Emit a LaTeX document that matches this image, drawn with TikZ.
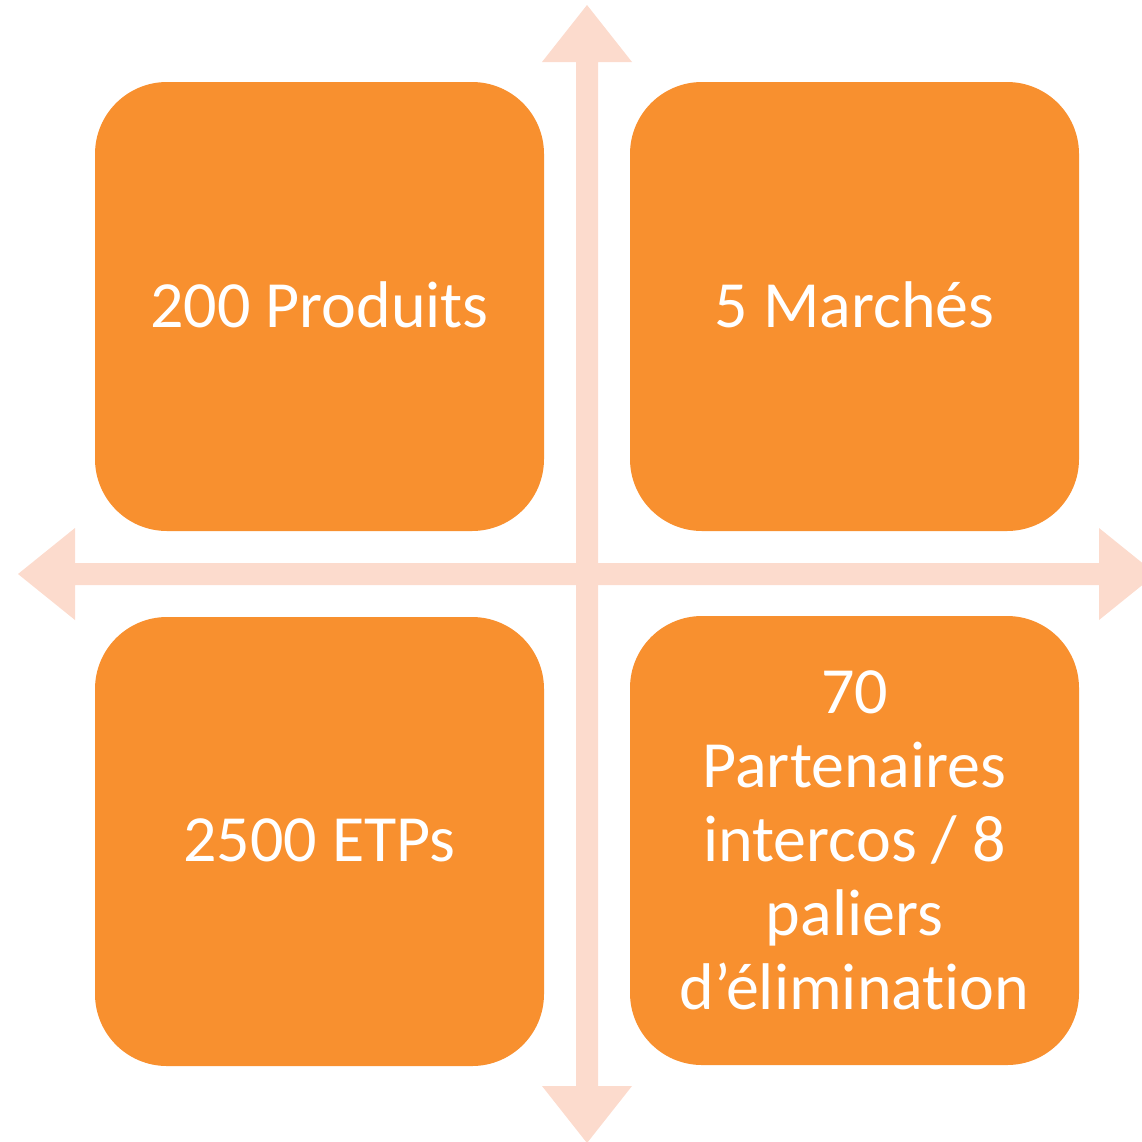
\documentclass[tikz,border=0pt]{standalone}
\usepackage{fontspec}
\setmainfont[Ligatures={NoCommon}]{Carlito}
\definecolor{boxorange}{HTML}{F8902F}
\definecolor{arrowpeach}{HTML}{FCDBCD}
\begin{document}
\begin{tikzpicture}[x=1pt,y=-1pt,
  quad/.style={fill=boxorange, draw=none, rounded corners=72pt, minimum width=449pt, minimum height=449pt,
    text=white, align=center, inner sep=0pt, font=\fontsize{66}{74}\selectfont},
  axis/.style={fill=arrowpeach, draw=none}]
\useasboundingbox (0,0) rectangle (1142,1141);
\clip (0,0) rectangle (1142,1141);
% vertical double arrow
\fill[axis] (587,5) -- (632,62) -- (598,62) -- (598,1086) -- (632,1086) -- (587,1143) -- (542,1086) -- (576,1086) -- (576,62) -- (542,62) -- cycle;
% horizontal double arrow
\fill[axis] (18,574) -- (75,528) -- (75,563) -- (1099,563) -- (1099,528) -- (1156,574) -- (1099,620) -- (1099,585) -- (75,585) -- (75,620) -- cycle;
% quadrants
\node[quad] (tl) at (319.5,306.5) {\raisebox{3pt}{200 Produits}};
\node[quad] (tr) at (854.5,306.5) {\raisebox{3pt}{5 Marchés}};
\node[quad] (bl) at (319.5,841.5) {\raisebox{3pt}{2500 ETPs}};
\node[quad] (br) at (854.5,840.5) {70\\Partenaires\\intercos / 8\\paliers\\d’élimination};
\end{tikzpicture}
\end{document}
